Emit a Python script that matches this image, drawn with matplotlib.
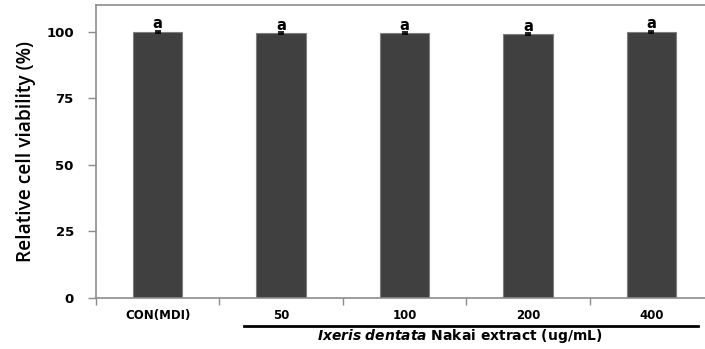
import numpy as np
import matplotlib
matplotlib.use("Agg")
import matplotlib.pyplot as plt
from matplotlib.lines import Line2D

plt.rcParams['font.family'] = ['DejaVu Sans']
plt.rcParams['mathtext.fontset'] = 'dejavusans'

groups = ['CON(MDI)', '50', '100', '200', '400']
viability = [100.0, 99.5, 99.4, 99.2, 100.0]
viability_err = [0.4, 0.4, 0.4, 0.4, 0.4]
letters = ['a', 'a', 'a', 'a', 'a']
yticks = [0, 25, 50, 75, 100]

W, H = 705, 349
fig = plt.figure(figsize=(W / 100, H / 100), dpi=100, facecolor='w')
ax = fig.add_axes([96 / W, 51 / H, (713 - 96) / W, 293 / H])

x = np.arange(len(groups))
ax.bar(x, viability, width=0.4, color='#404040', edgecolor='#7f7f7f', linewidth=0.8, zorder=2)
ax.errorbar(x, viability, yerr=viability_err, fmt='none', ecolor='black',
            elinewidth=1.0, capsize=2.5, capthick=1.2, zorder=3)
for xi, v, lab in zip(x, viability, letters):
    ax.text(xi, v + 1.2, lab, ha='center', va='baseline', fontsize=10.5, fontweight='bold')

ax.set_xlim(-0.5, len(groups) - 0.5)
ax.set_ylim(0, 110)
ax.set_yticks(yticks)
ax.set_yticklabels([str(t) for t in yticks], fontsize=9.5, fontweight='bold')
ax.set_xticks(x)
ax.set_xticklabels(groups, fontsize=8.5, fontweight='bold')
ax.set_xticks(np.arange(-0.5, len(groups), 1.0), minor=True)
ax.tick_params(axis='x', which='major', length=0, pad=8)
ax.tick_params(axis='x', which='minor', length=5, color='#8c8c8c', width=1)
ax.tick_params(axis='y', length=6, color='#8c8c8c', width=1, pad=10)

for side in ['left', 'bottom', 'top', 'right']:
    ax.spines[side].set_color('#8c8c8c')
    ax.spines[side].set_linewidth(1.2)

ax.set_ylabel('Relative cell viability (%)', fontsize=13.8, family='Open Sans',
              fontweight='semibold')
ax.yaxis.set_label_coords(-60 / (713 - 96), 0.5)

# bracket line under the extract concentrations
fig.add_artist(Line2D([244 / W, 698 / W], [1 - 326 / H, 1 - 326 / H],
                      color='black', linewidth=2))
fig.text(460 / W, 1 - 336 / H,
         r'$\mathbfit{Ixeris\ dentata}$' + ' Nakai extract (ug/mL)',
         ha='center', va='center', fontsize=10, fontweight='bold')

fig.savefig('out.png', dpi=100)
